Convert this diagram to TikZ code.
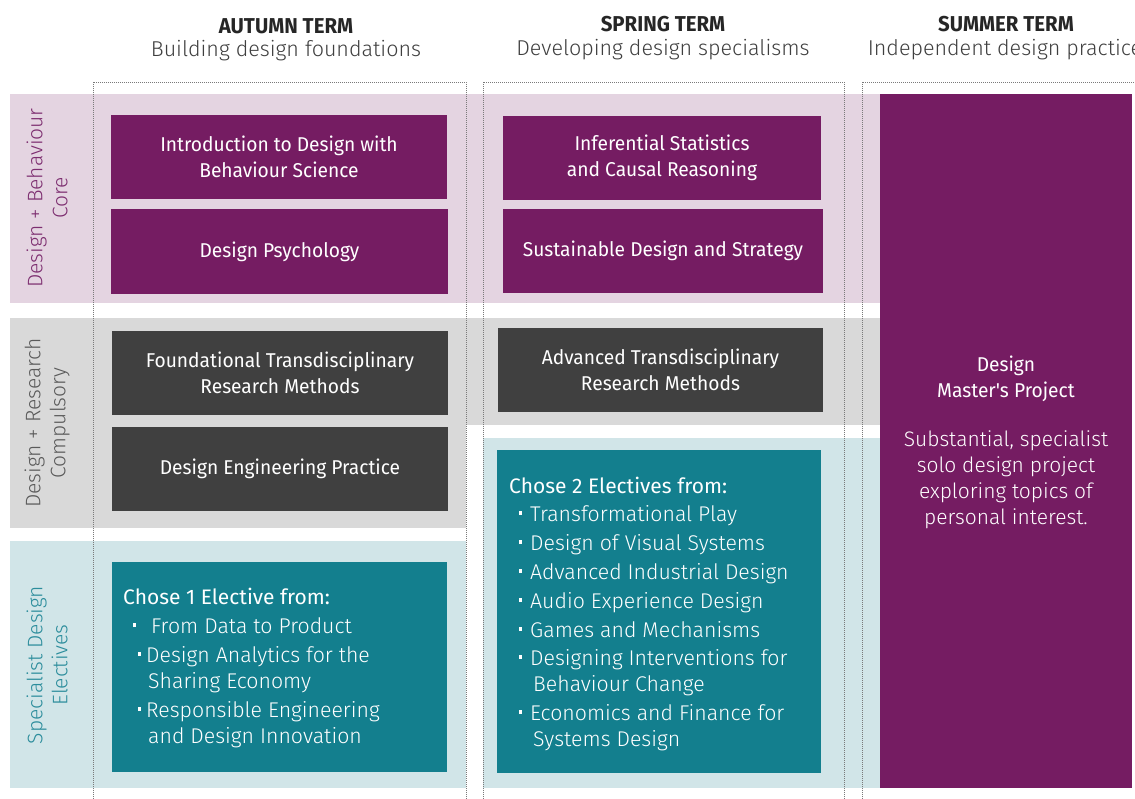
\documentclass[tikz,border=0pt]{standalone}
\usepackage{fontspec}
\setmainfont{Fira Sans}
\newfontfamily\lightfont{Fira Sans Light}
\newfontfamily\condfont{Fira Sans}[FakeStretch=0.96]
\newfontfamily\headfont{Fira Sans}[FakeStretch=0.95]

\definecolor{plum}{HTML}{751C62}
\definecolor{plumband}{HTML}{E4D4E1}
\definecolor{greyband}{HTML}{D9D9D9}
\definecolor{charcoal}{HTML}{404040}
\definecolor{tealbox}{HTML}{137F8E}
\definecolor{tealband}{HTML}{D1E5E8}
\definecolor{plumtext}{HTML}{7D2E70}
\definecolor{greytext}{HTML}{5A5A5A}
\definecolor{tealtext}{HTML}{2C8D9C}
\definecolor{headtext}{HTML}{262626}
\definecolor{subtext}{HTML}{3F3F3F}
\definecolor{dotgrey}{HTML}{7A7A7A}

% small square list bullet, set to the left of the item text
\newcommand{\itembul}[1]{\llap{\rule[0.28em]{3.6pt}{3.6pt}\hspace{#1}}}

\tikzset{
  frame/.style={draw=dotgrey, line width=0.9pt, dash pattern=on 0.9pt off 1.1pt},
  coursebox/.style={inner sep=0pt, align=center, text=white,
    font=\condfont\fontsize{20}{26}\selectfont},
  plumbox/.style={coursebox, fill=plum},
  darkbox/.style={coursebox, fill=charcoal},
  electbox/.style={inner sep=0pt, fill=tealbox},
  electhead/.style={anchor=base west, inner sep=0pt, text=white,
    font=\fontsize{21}{26}\selectfont},
  electitem/.style={anchor=base west, inner sep=0pt, text=white,
    font=\lightfont\fontsize{21.3}{26}\selectfont},
  rowlabel/.style={rotate=90, align=center, inner sep=0pt,
    font=\lightfont\fontsize{21}{25}\selectfont},
  termhead/.style={inner sep=0pt, text=headtext,
    font=\headfont\bfseries\fontsize{21.5}{24}\selectfont},
  termsub/.style={inner sep=0pt, text=subtext,
    font=\lightfont\fontsize{21.5}{24}\selectfont},
}

\begin{document}
\begin{tikzpicture}[x=1pt, y=-1pt]
\useasboundingbox (0,0) rectangle (1135,799);
\clip (0,0) rectangle (1135,799);
\fill[white] (0,0) rectangle (1135,799);

% row bands
\fill[plumband] (10,94) rectangle (880,303);
\fill[greyband] (10,318) rectangle (466,528);
\fill[greyband] (466,318) rectangle (880,425);
\fill[tealband] (10,541) rectangle (466,788);
\fill[tealband] (483,438) rectangle (880,788);

% term columns
\draw[frame] (93,805) |- (466,82) -- (466,805);
\draw[frame] (483,805) |- (844,82) -- (844,805);
\draw[frame] (862,805) |- (1140,82);

% term headings
\node[termhead] (autumn) at (286,26) {AUTUMN TERM};
\node[termsub] (autumnsub) at (286,51) {Building design foundations};
\node[termhead] (spring) at (663,24) {SPRING TERM};
\node[termsub] (springsub) at (663,50) {Developing design specialisms};
\node[termhead] (summer) at (1006,24) {SUMMER TERM};
\node[termsub] (summersub) at (1005,50) {Independent design practice};

% row labels
\node[rowlabel, text=plumtext] (lblcore) at (47,198) {Design + Behaviour\\Core};
\node[rowlabel, text=greytext] (lblresearch) at (47,423) {Design + Research\\Compulsory};
\node[rowlabel, text=tealtext] (lblelect) at (47,665) {Specialist Design\\Electives};

% core modules
\node[plumbox, minimum width=336pt, minimum height=84pt] (intro) at (279,157)
  {Introduction to Design with\\Behaviour Science};
\node[plumbox, minimum width=337pt, minimum height=85pt] (psych) at (279.5,252)
  {Design Psychology};
\node[plumbox, minimum width=318pt, minimum height=84pt] (stats) at (662,158)
  {Inferential Statistics\\and Causal Reasoning};
\node[plumbox, minimum width=320pt, minimum height=84pt] (sustain) at (663,251)
  {Sustainable Design and Strategy};

% compulsory modules
\node[darkbox, minimum width=336pt, minimum height=84pt] (foundrm) at (280,373)
  {Foundational Transdisciplinary\\Research Methods};
\node[darkbox, minimum width=336pt, minimum height=84pt] (engprac) at (280,469)
  {Design Engineering Practice};
\node[darkbox, minimum width=325pt, minimum height=84pt] (advrm) at (660.5,370)
  {Advanced Transdisciplinary\\Research Methods};

% autumn electives
\node[electbox, minimum width=335pt, minimum height=210pt] (autelect) at (279.5,667) {};
\node[electhead] (ae0) at (123,604) {Chose 1 Elective from:};
\node[electitem] (ae1) at (151,633) {\itembul{15pt}From Data to Product};
\node[electitem] (ae2) at (146,662) {\itembul{5pt}Design Analytics for the};
\node[electitem] (ae2b) at (148,688) {Sharing Economy};
\node[electitem] (ae3) at (146,717) {\itembul{5pt}Responsible Engineering};
\node[electitem] (ae3b) at (148,743) {and Design Innovation};

% spring electives
\node[electbox, minimum width=324pt, minimum height=323pt] (sprelect) at (659,611.5) {};
\node[electhead] (se0) at (509,493) {Chose 2 Electives from:};
\node[electitem] (se1) at (530,521) {\itembul{8pt}Transformational Play};
\node[electitem] (se2) at (530,550) {\itembul{8pt}Design of Visual Systems};
\node[electitem] (se3) at (530,579) {\itembul{8pt}Advanced Industrial Design};
\node[electitem] (se4) at (530,608) {\itembul{8pt}Audio Experience Design};
\node[electitem] (se5) at (530,637) {\itembul{8pt}Games and Mechanisms};
\node[electitem] (se6) at (530,665) {\itembul{8pt}Designing Interventions for};
\node[electitem] (se6b) at (533,691) {Behaviour Change};
\node[electitem] (se7) at (530,720) {\itembul{8pt}Economics and Finance for};
\node[electitem] (se7b) at (533,746) {Systems Design};

% summer project
\node[fill=plum, inner sep=0pt, minimum width=252pt, minimum height=694pt] (master) at (1006,441) {};
\node[coursebox] (mastertitle) at (1006,378.5) {Design\\Master's Project};
\node[inner sep=0pt, align=center, text=white, font=\lightfont\fontsize{21}{26}\selectfont]
  (masterdesc) at (1006,480) {Substantial, specialist\\solo design project\\exploring topics of\\personal interest.};
\end{tikzpicture}
\end{document}
